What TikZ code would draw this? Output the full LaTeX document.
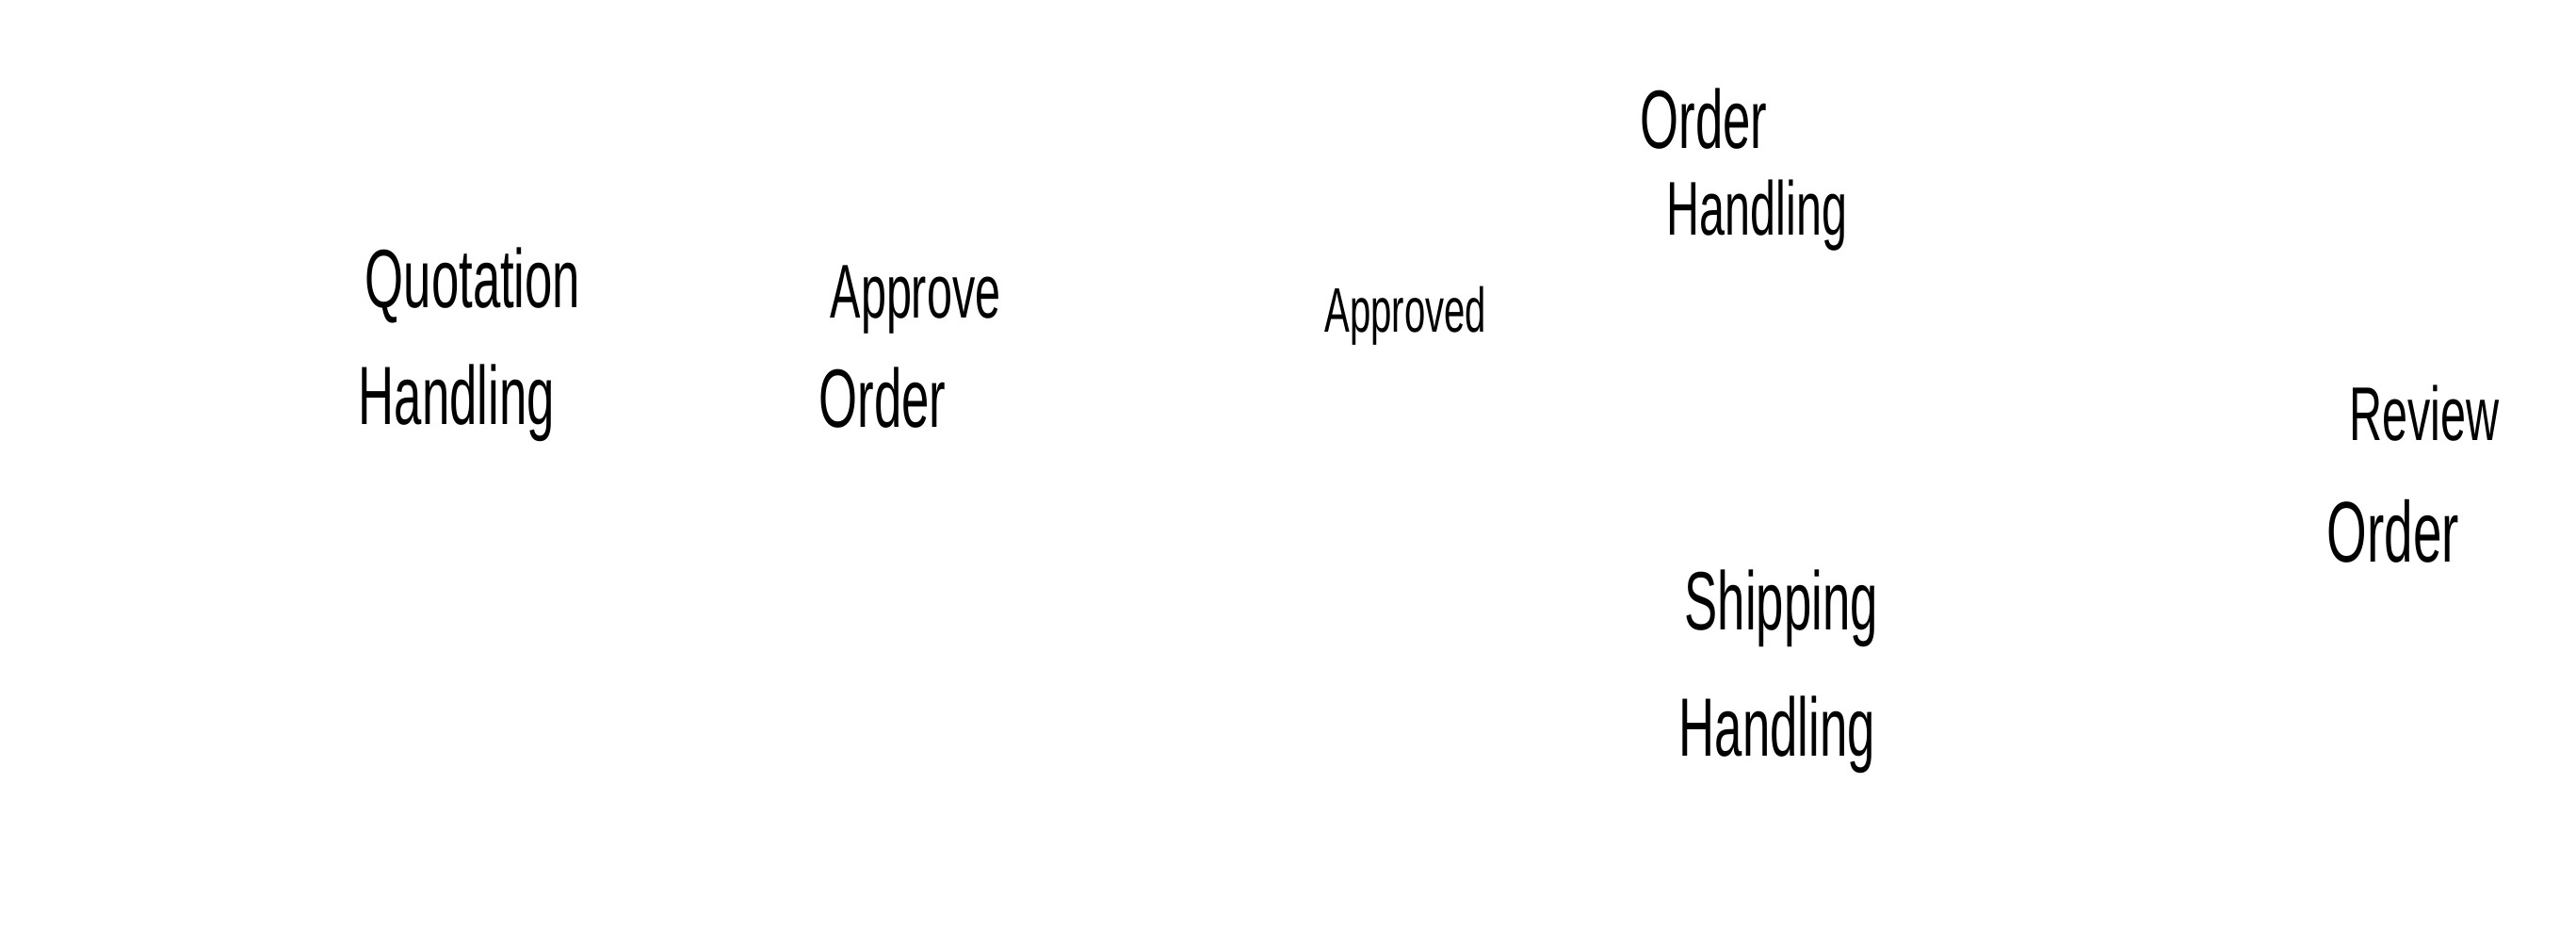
\documentclass[tikz,border=0pt]{standalone}
\usepackage{fontspec}
\setmainfont[FakeStretch=0.6]{Liberation Sans}
\usetikzlibrary{positioning}

\begin{document}
\begin{tikzpicture}[
      word/.style={
         inner sep=0pt,
         anchor=base west,
         font=\fontsize{25}{30}\selectfont
      },
      small word/.style={
         word,
         font=\fontsize{19}{23}\selectfont
      },
      mid word/.style={
         word,
         font=\fontsize{23}{28}\selectfont
      },
      big word/.style={
         word,
         font=\fontsize{26}{31}\selectfont
      }
    ]
    \useasboundingbox (0,0) rectangle (27.35,9.86);
    % quotation handling
    \node (quote1) [word] at (3.87,6.60) {Quotation};
    \node (quote2) [word] at (3.80,5.36) {Handling};
    % approve order
    \node (appr1) [mid word] at (8.81,6.49) {Approve};
    \node (appr2) [word] at (8.69,5.33) {Order};
    \node (approved) [small word] at (14.06,6.34) {Approved};
    % order handling
    \node (ordh1) [word] at (17.41,8.29) {Order};
    \node (ordh2) [mid word] at (17.69,7.37) {Handling};
    % shipping handling
    \node (ship1) [word] at (17.88,3.18) {Shipping};
    \node (ship2) [word] at (17.82,1.84) {Handling};
    % review order
    \node (rev1) [mid word] at (24.94,5.19) {Review};
    \node (rev2) [big word] at (24.70,3.90) {Order};
\end{tikzpicture}
\end{document}
